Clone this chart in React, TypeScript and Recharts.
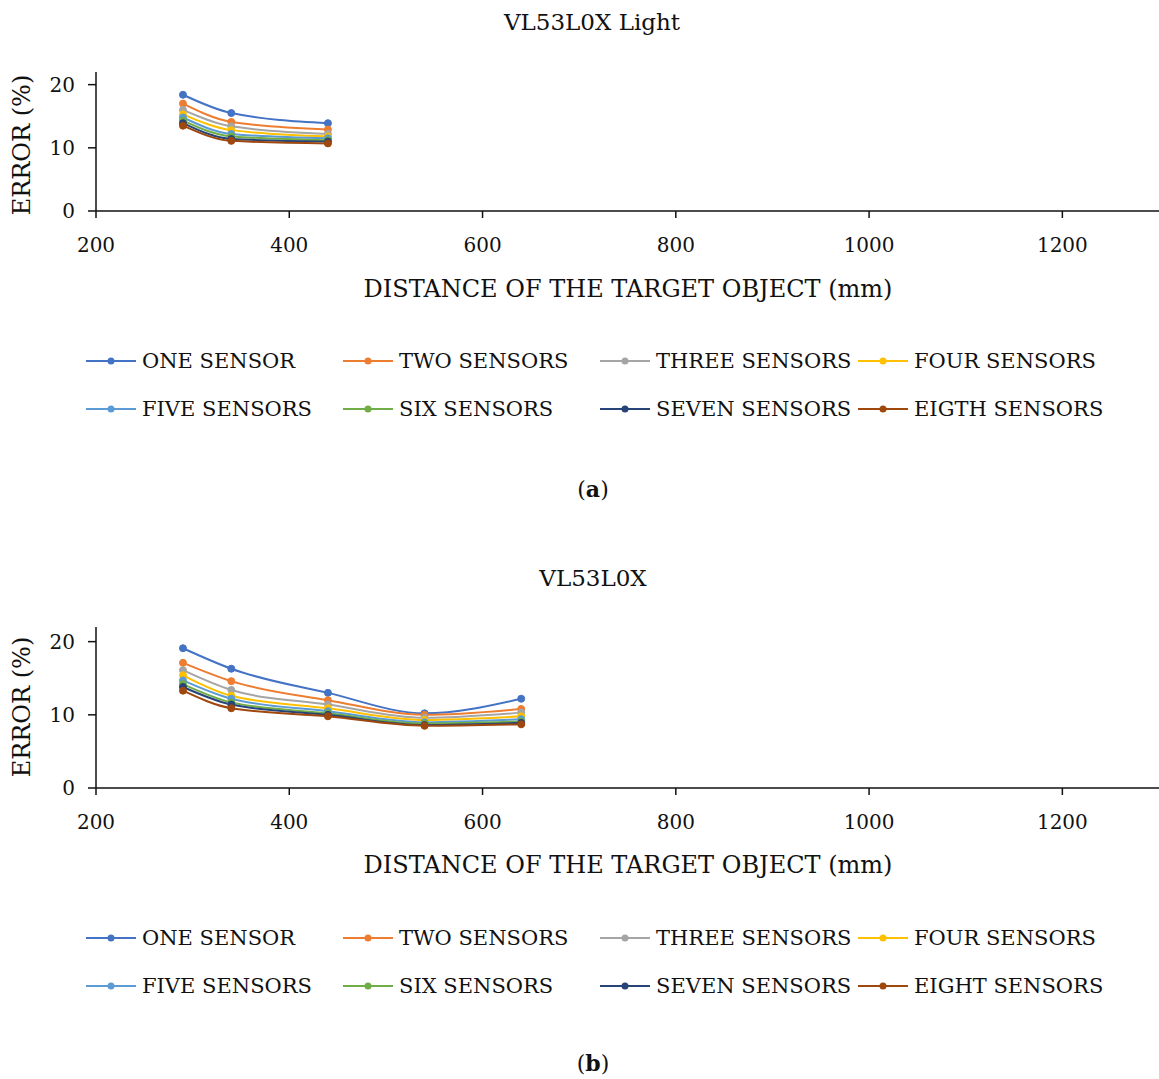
import { LineChart, Line, XAxis, YAxis } from 'recharts';

const FONT = '"DejaVu Serif", "Liberation Serif", serif';

// distances (mm)
const distancesLight = [290, 340, 440];
const distancesDark = [290, 340, 440, 540, 640];

// VL53L0X Light, error (%)
const lightOne = [18.4, 15.5, 13.9];
const lightTwo = [17.0, 14.1, 12.9];
const lightThree = [16.0, 13.4, 12.2];
const lightFour = [15.3, 12.8, 11.8];
const lightFive = [14.8, 12.2, 11.5];
const lightSix = [14.3, 11.8, 11.2];
const lightSeven = [13.9, 11.4, 11.0];
const lightEight = [13.5, 11.1, 10.7];

// VL53L0X, error (%)
const darkOne = [19.1, 16.3, 13.0, 10.2, 12.2];
const darkTwo = [17.1, 14.6, 12.0, 10.0, 10.8];
const darkThree = [16.1, 13.4, 11.4, 9.6, 10.3];
const darkFour = [15.4, 12.6, 10.9, 9.3, 9.8];
const darkFive = [14.7, 12.2, 10.5, 9.0, 9.4];
const darkSix = [14.2, 11.7, 10.2, 8.8, 9.1];
const darkSeven = [13.8, 11.4, 10.0, 8.6, 8.9];
const darkEight = [13.3, 10.9, 9.8, 8.5, 8.7];

const xTicks = [200, 400, 600, 800, 1000, 1200];
const yTicks = [0, 10, 20];

const seriesColors = ['#4472C4', '#ED7D31', '#A5A5A5', '#FFC000', '#5B9BD5', '#70AD47', '#264478', '#9E480E'];
const keys = ['one', 'two', 'three', 'four', 'five', 'six', 'seven', 'eight'];

const lightNames = ['ONE SENSOR', 'TWO SENSORS', 'THREE SENSORS', 'FOUR SENSORS', 'FIVE SENSORS', 'SIX SENSORS', 'SEVEN SENSORS', 'EIGTH SENSORS'];
const darkNames = ['ONE SENSOR', 'TWO SENSORS', 'THREE SENSORS', 'FOUR SENSORS', 'FIVE SENSORS', 'SIX SENSORS', 'SEVEN SENSORS', 'EIGHT SENSORS'];

const buildRows = (xs: number[], series: number[][]) =>
  xs.map((x, i) => {
    const row: Record<string, number> = { x };
    keys.forEach((k, s) => {
      row[k] = series[s][i];
    });
    return row;
  });

const lightData = buildRows(distancesLight, [lightOne, lightTwo, lightThree, lightFour, lightFive, lightSix, lightSeven, lightEight]);
const darkData = buildRows(distancesDark, [darkOne, darkTwo, darkThree, darkFour, darkFive, darkSix, darkSeven, darkEight]);

const Centered = ({ x, y, size, children, rotate }: any) => (
  <div
    style={{
      position: 'absolute',
      left: x,
      top: y,
      transform: `translate(-50%, -50%)${rotate ? ' rotate(-90deg)' : ''}`,
      fontFamily: FONT,
      fontSize: size,
      lineHeight: 1,
      whiteSpace: 'nowrap',
      color: '#111',
    }}
  >
    {children}
  </div>
);

const legendCols = [86, 343, 600, 858];

const LegendBlock = ({ top, names }: { top: number; names: string[] }) => (
  <>
    {names.map((name, i) => {
      const col = i % 4;
      const row = Math.floor(i / 4);
      return (
        <div
          key={name}
          style={{
            position: 'absolute',
            left: legendCols[col],
            top: top + row * 48 - 12,
            height: 24,
            display: 'flex',
            alignItems: 'center',
            fontFamily: FONT,
            fontSize: 21,
            color: '#111',
            whiteSpace: 'nowrap',
          }}
        >
          <svg width={50} height={10} style={{ marginRight: 6 }}>
            <line x1={0} y1={5} x2={50} y2={5} stroke={seriesColors[i]} strokeWidth={2} />
            <circle cx={25} cy={5} r={3.5} fill={seriesColors[i]} />
          </svg>
          {name}
        </div>
      );
    })}
  </>
);

interface PanelProps {
  top: number;
  height: number;
  plotTop: number;
  xAxisHeight: number;
  data: Record<string, number>[];
}

const Panel = ({ top, height, plotTop, xAxisHeight, data }: PanelProps) => (
  <div style={{ position: 'absolute', left: 0, top }}>
    <LineChart width={1159} height={height} data={data} margin={{ top: plotTop, right: 0, left: 0, bottom: 0 }}>
      <XAxis
        dataKey="x"
        type="number"
        domain={[200, 1300]}
        ticks={xTicks}
        height={xAxisHeight}
        stroke="#111"
        strokeWidth={1.5}
        tickSize={7}
        tickMargin={20}
        tick={{ fill: '#111', fontSize: 20, fontFamily: FONT }}
      />
      <YAxis
        type="number"
        domain={[0, 22]}
        ticks={yTicks}
        width={96}
        stroke="#111"
        strokeWidth={1.5}
        tickSize={8}
        tickMargin={13}
        tick={{ fill: '#111', fontSize: 20, fontFamily: FONT }}
      />
      {keys.map((k, i) => (
        <Line
          key={k}
          dataKey={k}
          type="monotone"
          stroke={seriesColors[i]}
          strokeWidth={2}
          dot={{ r: 3.5, fill: seriesColors[i], stroke: seriesColors[i], strokeWidth: 1 }}
          activeDot={false}
          isAnimationActive={false}
        />
      ))}
    </LineChart>
  </div>
);

export default function App() {
  return (
    <div style={{ position: 'absolute', left: 0, top: 0, width: 1159, height: 1079, background: '#fff', overflow: 'hidden' }}>
      {/* (a) VL53L0X Light */}
      <Centered x={592} y={22} size={23}>VL53L0X Light</Centered>
      <Panel top={0} height={300} plotTop={72} xAxisHeight={89} data={lightData} />
      <Centered x={22} y={145} size={24} rotate>ERROR (%)</Centered>
      <Centered x={628} y={289} size={24}>DISTANCE OF THE TARGET OBJECT (mm)</Centered>
      <LegendBlock top={361} names={lightNames} />
      <Centered x={593} y={489} size={22}>(<b>a</b>)</Centered>

      {/* (b) VL53L0X */}
      <Centered x={593} y={578} size={23}>VL53L0X</Centered>
      <Panel top={557} height={300} plotTop={70} xAxisHeight={69} data={darkData} />
      <Centered x={22} y={707} size={24} rotate>ERROR (%)</Centered>
      <Centered x={628} y={865} size={24}>DISTANCE OF THE TARGET OBJECT (mm)</Centered>
      <LegendBlock top={938} names={darkNames} />
      <Centered x={593} y={1063} size={22}>(<b>b</b>)</Centered>
    </div>
  );
}
